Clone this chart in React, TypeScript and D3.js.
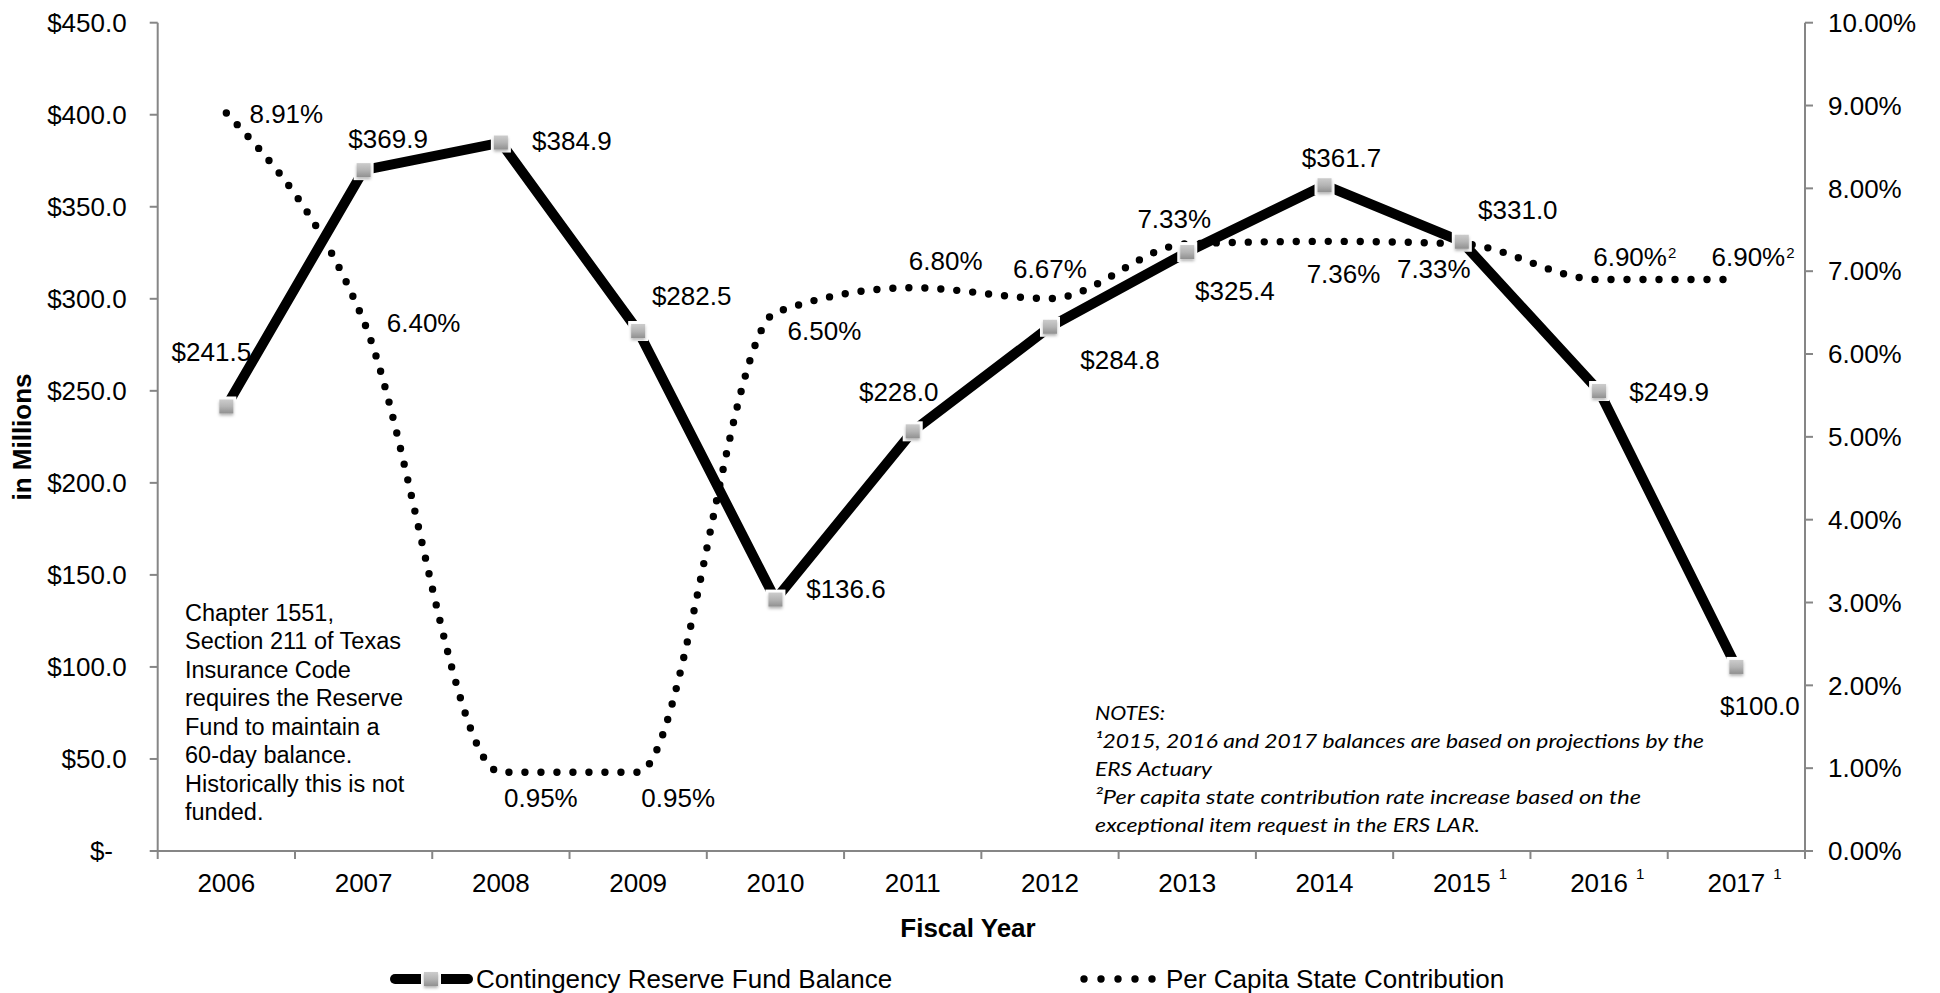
import React from "react";
import * as d3 from "d3";

// ---------- data ----------
const years = ["2006", "2007", "2008", "2009", "2010", "2011", "2012", "2013", "2014", "2015", "2016", "2017"];
const yearNotes = ["", "", "", "", "", "", "", "", "", "1", "1", "1"];
const balance = [241.5, 369.9, 384.9, 282.5, 136.6, 228.0, 284.8, 325.4, 361.7, 331.0, 249.9, 100.0];
const perCapita = [8.91, 6.4, 0.95, 0.95, 6.5, 6.8, 6.67, 7.33, 7.36, 7.33, 6.9, 6.9];
const perCapitaNotes = ["", "", "", "", "", "", "", "", "", "", "2", "2"];
const balanceTicks = [0, 50, 100, 150, 200, 250, 300, 350, 400, 450];
const pctTicks = [0, 1, 2, 3, 4, 5, 6, 7, 8, 9, 10];
const seriesNames = ["Contingency Reserve Fund Balance", "Per Capita State Contribution"];
const axisTitles = { x: "Fiscal Year", y: "in Millions" };
const annotationLines = [
  "Chapter 1551,",
  "Section 211 of Texas",
  "Insurance Code",
  "requires the Reserve",
  "Fund to maintain a",
  "60-day balance.",
  "Historically this is not",
  "funded.",
];
const noteLines = [
  "NOTES:",
  "¹2015, 2016 and 2017 balances are based on projections by the",
  "ERS Actuary",
  "²Per capita state contribution rate increase based on the",
  "exceptional item request in the ERS LAR.",
];

// ---------- layout (label placement, not data) ----------
const balanceLabelOffsets: [number, number][] = [
  [-15, -55], [24.5, -31], [71, -1.5], [53.5, -35], [70.5, -11], [-14, -39.5],
  [70, 33], [47.6, 39], [17, -28], [56, -32], [70, 1], [23.5, 39],
];
const pctLabelOffsets: [number, number][] = [
  [60, 1], [60, 2], [40, 25], [40, 25], [49, 18.5], [33, -27],
  [0, -30], [-13, -25], [19, 32], [-28, 25], [31, -23], [12, -23],
];
const noteWidths = [70, 609, 117, 546, 385];

const W = 1940;
const H = 993;
const left = 157.7;
const right = 1805;
const top = 22.7;
const bottom = 851;
const FONT = "'Liberation Sans', Arial, Helvetica, sans-serif";
const FS = 26;
const SUPFS = 15;
const AXIS = "#868686";

let measureCtx: CanvasRenderingContext2D | null = null;
function measure(text: string, font: string): number {
  if (!measureCtx) {
    const c = document.createElement("canvas");
    measureCtx = c.getContext("2d");
  }
  if (!measureCtx) return text.length * 14;
  measureCtx.font = font;
  return measureCtx.measureText(text).width;
}

export default function App() {
  const x = d3.scaleBand<string>().domain(years).range([left, right]).padding(0);
  const bw = x.bandwidth();
  const cx = (i: number) => (x(years[i]) as number) + bw / 2;
  const yL = d3.scaleLinear().domain([0, 450]).range([bottom, top]);
  const yR = d3.scaleLinear().domain([0, 10]).range([bottom, top]);

  const solidPath = d3
    .line<number>()
    .x((_, i) => cx(i))
    .y((d) => yL(d))(balance) as string;
  const dottedPath = d3
    .line<number>()
    .x((_, i) => cx(i))
    .y((d) => yR(d))
    .curve(d3.curveMonotoneX)(perCapita) as string;

  const fmtMoney = (v: number) => (v === 0 ? "$-" : "$" + d3.format(".1f")(v));
  const fmtPct = (v: number) => d3.format(".2f")(v) + "%";
  const base = 9.3; // center -> baseline for 26px digits
  const labelFont = `${FS}px 'Liberation Sans'`;

  const marker = (px: number, py: number, key: string) => (
    <g key={key}>
      <rect x={px - 10} y={py - 10} width={20} height={20} fill="#fff" />
      <rect x={px - 7} y={py - 7} width={14} height={14} fill="url(#mkGrad)" filter="url(#mkShadow)" />
    </g>
  );

  return (
    <svg
      width={W}
      height={H}
      viewBox={`0 0 ${W} ${H}`}
      style={{ position: "absolute", left: 0, top: 0, background: "#fff" }}
      fontFamily={FONT}
    >
      <defs>
        <linearGradient id="mkGrad" x1="0" y1="0" x2="0" y2="1">
          <stop offset="0" stopColor="#cccccc" />
          <stop offset="0.5" stopColor="#b4b4b4" />
          <stop offset="1" stopColor="#909090" />
        </linearGradient>
        <filter id="mkShadow" x="-60%" y="-60%" width="220%" height="220%">
          <feGaussianBlur in="SourceAlpha" stdDeviation="1.6" />
          <feOffset dx="0" dy="2" result="b" />
          <feFlood floodColor="#000" floodOpacity="0.3" />
          <feComposite in2="b" operator="in" />
          <feMerge>
            <feMergeNode />
            <feMergeNode in="SourceGraphic" />
          </feMerge>
        </filter>
      </defs>
      <rect x={0} y={0} width={W} height={H} fill="#fff" />

      {/* left axis */}
      <line x1={left} x2={left} y1={top} y2={bottom} stroke={AXIS} strokeWidth={2} />
      {balanceTicks.map((t) => (
        <g key={"lt" + t}>
          <line x1={left - 8} x2={left} y1={yL(t)} y2={yL(t)} stroke={AXIS} strokeWidth={2} />
          <text x={t === 0 ? 113 : 126.7} y={yL(t) + base} textAnchor="end" fontSize={FS} fill="#000">
            {fmtMoney(t)}
          </text>
        </g>
      ))}

      {/* right axis */}
      <line x1={right} x2={right} y1={top} y2={bottom} stroke={AXIS} strokeWidth={2} />
      {pctTicks.map((t) => (
        <g key={"rt" + t}>
          <line x1={right} x2={right + 8} y1={yR(t)} y2={yR(t)} stroke={AXIS} strokeWidth={2} />
          <text x={1828} y={yR(t) + base} textAnchor="start" fontSize={FS} fill="#000">
            {fmtPct(t)}
          </text>
        </g>
      ))}

      {/* x axis */}
      <line x1={left} x2={right} y1={bottom} y2={bottom} stroke={AXIS} strokeWidth={2} />
      {years.map((yr) => (
        <line
          key={"xt" + yr}
          x1={x(yr) as number}
          x2={x(yr) as number}
          y1={bottom}
          y2={bottom + 8}
          stroke={AXIS}
          strokeWidth={2}
        />
      ))}
      <line x1={right} x2={right} y1={bottom} y2={bottom + 8} stroke={AXIS} strokeWidth={2} />
      {years.map((yr, i) => (
        <g key={"xl" + yr}>
          <text x={cx(i)} y={892} textAnchor="middle" fontSize={FS} fill="#000">
            {yr}
          </text>
          {yearNotes[i] && (
            <text
              x={cx(i) + measure(yr, labelFont) / 2 + 8}
              y={879}
              textAnchor="start"
              fontSize={SUPFS}
              fill="#000"
            >
              {yearNotes[i]}
            </text>
          )}
        </g>
      ))}

      {/* axis titles */}
      <text x={968} y={936.5} textAnchor="middle" fontSize={FS} fontWeight="bold" fill="#000">
        {axisTitles.x}
      </text>
      <text transform={`translate(31,437) rotate(-90)`} textAnchor="middle" fontSize={FS} fontWeight="bold" fill="#000">
        {axisTitles.y}
      </text>

      {/* annotation */}
      <text fontSize={23.5} fill="#000">
        {annotationLines.map((l, i) => (
          <tspan key={"an" + i} x={185} y={620.5 + i * 28.5}>
            {l}
          </tspan>
        ))}
      </text>

      {/* notes */}
      {noteLines.map((l, i) => (
        <text
          key={"nt" + i}
          x={1095}
          y={719.5 + i * 28.2}
          fontFamily="Lato, 'Open Sans', sans-serif"
          fontStyle="italic"
          fontSize={20}
          fill="#000"
          textLength={noteWidths[i]}
          lengthAdjust="spacingAndGlyphs"
        >
          {l}
        </text>
      ))}

      {/* series */}
      <path d={solidPath} fill="none" stroke="#000" strokeWidth={10} strokeLinejoin="round" />
      <path
        d={dottedPath}
        fill="none"
        stroke="#000"
        strokeWidth={7.4}
        strokeDasharray="0 16"
        strokeLinecap="round"
      />
      {balance.map((v, i) => marker(cx(i), yL(v), "m" + i))}

      {/* data labels */}
      {balance.map((v, i) => (
        <text
          key={"bl" + i}
          x={cx(i) + balanceLabelOffsets[i][0]}
          y={yL(v) + balanceLabelOffsets[i][1] + base}
          textAnchor="middle"
          fontSize={FS}
          fill="#000"
        >
          {fmtMoney(v)}
        </text>
      ))}
      {perCapita.map((v, i) => {
        const lx = cx(i) + pctLabelOffsets[i][0];
        const ly = yR(v) + pctLabelOffsets[i][1] + base;
        const txt = fmtPct(v);
        return (
          <g key={"pl" + i}>
            <text x={lx} y={ly} textAnchor="middle" fontSize={FS} fill="#000">
              {txt}
            </text>
            {perCapitaNotes[i] && (
              <text
                x={lx + measure(txt, labelFont) / 2 + 1}
                y={ly - 8}
                textAnchor="start"
                fontSize={SUPFS}
                fill="#000"
              >
                {perCapitaNotes[i]}
              </text>
            )}
          </g>
        );
      })}

      {/* legend */}
      <g>
        <line x1={395} x2={468} y1={979} y2={979} stroke="#000" strokeWidth={10} strokeLinecap="round" />
        {marker(431, 979, "lgm")}
        <text x={476} y={988.3} fontSize={FS} fill="#000">
          {seriesNames[0]}
        </text>
        <line
          x1={1084}
          x2={1155}
          y1={979}
          y2={979}
          stroke="#000"
          strokeWidth={7.4}
          strokeDasharray="0 17"
          strokeLinecap="round"
        />
        <text x={1166} y={988.3} fontSize={FS} fill="#000">
          {seriesNames[1]}
        </text>
      </g>
    </svg>
  );
}
